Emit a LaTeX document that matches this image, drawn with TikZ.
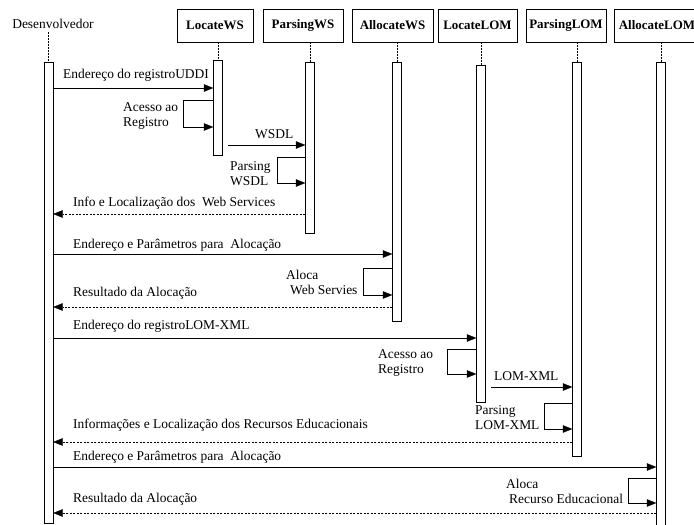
\documentclass[tikz,border=0pt]{standalone}
\usepackage{fontspec}
\setmainfont{Liberation Serif}
\usetikzlibrary{arrows.meta}

\begin{document}
\begin{tikzpicture}[x=1bp,y=-1bp,
  font=\fontsize{13.5}{15}\selectfont,
  head/.style={draw,minimum height=33bp,inner sep=0pt,
    font=\fontsize{13}{15}\selectfont\bfseries},
  bar/.style={draw,fill=white,minimum width=9bp,inner sep=0pt,anchor=north},
  life/.style={dash pattern=on 1.5bp off 1.5bp},
  msg/.style={-{Triangle[length=9.5bp,width=7.5bp]}},
  ret/.style={msg,dash pattern=on 2bp off 1.5bp},
  lbl/.style={anchor=west,inner sep=0pt,align=left}]
\useasboundingbox (0,0) rectangle (694,525);
\node (dev) at (53,24) {Desenvolvedor};
\node[head,minimum width=76bp] (lws) at (215,25.5) {LocateWS};
\node[head,minimum width=80bp] (pws) at (303,25.5) {ParsingWS};
\node[head,minimum width=81bp] (aws) at (392.5,25.5) {AllocateWS};
\node[head,minimum width=79bp] (llom) at (477.5,25.5) {LocateLOM};
\node[head,minimum width=80bp] (plom) at (566,25.5) {ParsingLOM};
\node[head,minimum width=86bp] (alom) at (657,25.5) {AllocateLOM};
\node[bar,minimum height=461bp] (devb) at (48.5,62) {};
\node[bar,minimum height=95bp] (lwsb) at (218,60) {};
\node[bar,minimum height=171bp] (pwsb) at (310,62) {};
\node[bar,minimum height=259bp] (awsb) at (397,62) {};
\node[bar,minimum height=337bp] (llomb) at (481,65) {};
\node[bar,minimum height=394bp] (plomb) at (577,62) {};
\node[bar,minimum height=480bp] (alomb) at (661,62) {};
\draw[life] (devb.north |- dev.south) -- (devb.north);
\draw[life] (lwsb.north |- lws.south) -- (lwsb.north);
\draw[life] (pwsb.north |- pws.south) -- (pwsb.north);
\draw[life] (awsb.north |- aws.south) -- (awsb.north);
\draw[life] (llomb.north |- llom.south) -- (llomb.north);
\draw[life] (plomb.north |- plom.south) -- (plomb.north);
\draw[life] (alomb.north |- alom.south) -- (alomb.north);

\draw[msg] (devb.east |- 0,88) -- (lwsb.west |- 0,88);
\node[lbl] (m1) at (63,75) {Endereço do registroUDDI};
\draw[msg] (lwsb.west |- 0,100) -- ++(-30,0) |- (lwsb.west |- 0,127);
\node[lbl] (m2) at (123,116) {Acesso ao\\Registro};
\draw[msg] ([xshift=5bp]lwsb.east |- 0,145) -- (pwsb.west |- 0,145);
\node[lbl] (m3) at (255,134) {WSDL};
\draw[msg] (pwsb.west |- 0,157) -- ++(-28,0) |- (pwsb.west |- 0,183);
\node[lbl] (m4) at (230,174) {Parsing\\WSDL};
\draw[ret] (pwsb.west |- 0,214) -- (devb.east |- 0,214);
\node[lbl] (m5) at (73,203) {Info e Localização dos~ Web Services};

\draw[msg] (devb.east |- 0,254) -- (awsb.west |- 0,254);
\node[lbl] (m6) at (73,245) {Endereço e Parâmetros para~ Alocação};
\draw[msg] (awsb.west |- 0,268) -- ++(-29,0) |- (awsb.west |- 0,295);
\node[lbl] (m7) at (286,282) {Aloca\\\hspace{4bp}Web Servies};
\draw[ret] (awsb.west |- 0,307) -- (devb.east |- 0,307);
\node[lbl] (m8) at (73,293) {Resultado da Alocação};

\draw[msg] (devb.east |- 0,338) -- (llomb.west |- 0,338);
\node[lbl] (m9) at (73,326) {Endereço do registroLOM-XML};
\draw[msg] (llomb.west |- 0,349) -- ++(-29,0) |- (llomb.west |- 0,374);
\node[lbl] (m10) at (378,363) {Acesso ao\\Registro};
\draw[msg] ([xshift=5bp]llomb.east |- 0,387) -- (plomb.west |- 0,387);
\node[lbl] (m11) at (494,376) {LOM-XML};
\draw[msg] (plomb.west |- 0,403) -- ++(-28,0) |- (plomb.west |- 0,429);
\node[lbl] (m12) at (475,418) {Parsing\\LOM-XML};
\draw[ret] (plomb.west |- 0,442) -- (devb.east |- 0,442);
\node[lbl] (m13) at (73,425) {Informações e Localização dos Recursos Educacionais};

\draw[msg] (devb.east |- 0,467) -- (alomb.west |- 0,467);
\node[lbl] (m14) at (73,457) {Endereço e Parâmetros para~ Alocação};
\draw[msg] (alomb.west |- 0,478) -- ++(-28,0) |- (alomb.west |- 0,503);
\node[lbl] (m15) at (506,491) {Aloca\\\hspace{3bp}Recurso Educacional};
\draw[ret] (alomb.west |- 0,513) -- (devb.east |- 0,513);
\node[lbl] (m16) at (73,499) {Resultado da Alocação};
\end{tikzpicture}
\end{document}
